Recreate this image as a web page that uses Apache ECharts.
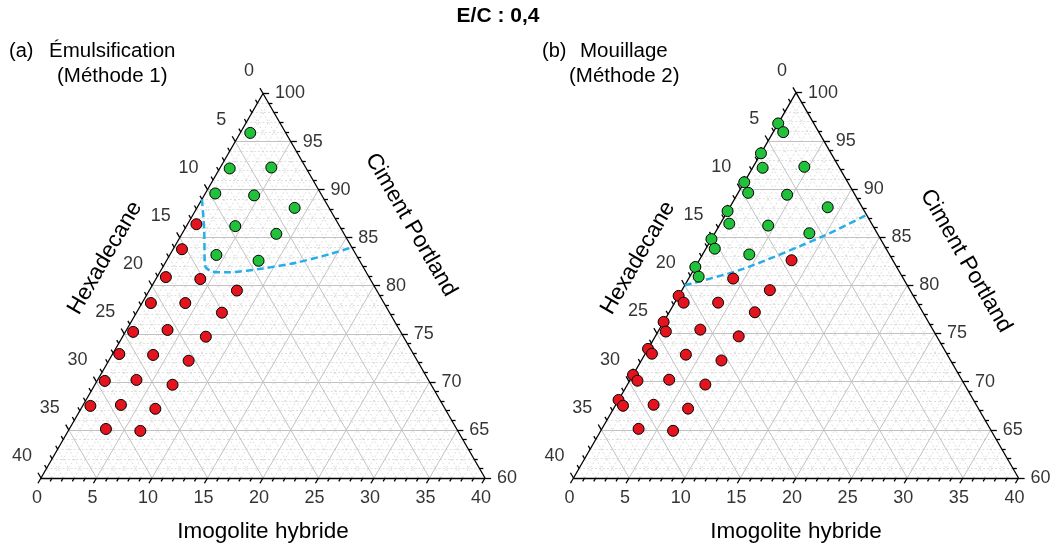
<!DOCTYPE html>
<html><head><meta charset="utf-8">
<script src="https://cdn.jsdelivr.net/npm/echarts@6/dist/echarts.min.js"></script>
<style>html,body{margin:0;padding:0;background:#fff}#c{width:1055px;height:545px}</style>
</head><body><div id="c"></div>
<script>
const FONT = "'Liberation Sans', Arial, Helvetica, sans-serif";
const TXT = '#000';

// tick labels
const imoTicks = [0, 5, 10, 15, 20, 25, 30, 35, 40];
const hexTicks = [0, 5, 10, 15, 20, 25, 30, 35, 40];
const cementTicks = [60, 65, 70, 75, 80, 85, 90, 95, 100];

// data points: [imogolite hybride, hexadecane, ciment Portland] (%)
const emulsionStable = [
  [0.9, 3.2, 95.9], [0.9, 6.9, 92.2], [4.6, 3.1, 92.3], [0.9, 9.5, 89.6], [4.5, 6.1, 89.4],
  [8.8, 3.1, 88.1], [4.4, 9.4, 86.2], [8.5, 6.1, 85.4], [4.2, 12.6, 83.2], [8.3, 9.1, 82.6]
];
const emulsionUnstable = [
  [0.8, 12.8, 86.4], [0.8, 15.4, 83.8], [0.8, 18.3, 80.9], [4.0, 15.3, 80.7], [7.9, 12.6, 79.5],
  [0.8, 21.0, 78.2], [3.9, 17.9, 78.2], [7.7, 15.1, 77.2], [0.7, 24.1, 75.2], [3.7, 20.9, 75.4],
  [7.5, 17.8, 74.7], [0.6, 26.5, 72.9], [3.7, 23.5, 72.8], [7.2, 20.6, 72.2], [0.7, 29.2, 70.1],
  [3.5, 26.3, 70.2], [7.0, 23.3, 69.7], [0.7, 31.8, 67.5], [3.4, 29.0, 67.6], [6.7, 26.1, 67.2],
  [3.3, 31.6, 65.1], [6.5, 28.6, 64.9]
];
const mouillageStable = [
  [0, 3.2, 96.8], [0, 6.3, 93.7], [0, 9.3, 90.7], [0, 12.3, 87.7], [0, 15.2, 84.8], [0, 18.1, 81.9],
  [0.9, 3.2, 95.9], [0.9, 6.9, 92.2], [4.6, 3.1, 92.3], [0.9, 9.5, 89.6], [4.5, 6.1, 89.4],
  [8.8, 3.1, 88.1], [4.4, 9.4, 86.2], [8.5, 6.1, 85.4], [4.2, 12.6, 83.2],
  [0.8, 12.8, 86.4], [0.8, 15.4, 83.8], [0.8, 18.3, 80.9]
];
const mouillageUnstable = [
  [0, 21.1, 78.9], [0, 23.8, 76.2], [0, 26.6, 73.4], [0, 29.3, 70.7], [0, 31.9, 68.1],
  [8.3, 9.1, 82.6], [4.0, 15.3, 80.7], [7.9, 12.6, 79.5],
  [0.8, 21.0, 78.2], [3.9, 17.9, 78.2], [7.7, 15.1, 77.2], [0.7, 24.1, 75.2], [3.7, 20.9, 75.4],
  [7.5, 17.8, 74.7], [0.6, 26.5, 72.9], [3.7, 23.5, 72.8], [7.2, 20.6, 72.2], [0.7, 29.2, 70.1],
  [3.5, 26.3, 70.2], [7.0, 23.3, 69.7], [0.7, 31.8, 67.5], [3.4, 29.0, 67.6], [6.7, 26.1, 67.2],
  [3.3, 31.6, 65.1], [6.5, 28.6, 64.9]
];
// stability boundaries (dashed)
const emulsionBoundary = [
  [0, 11.0, 89.0], [1.8, 12.4, 85.8], [3.5, 14.0, 82.5], [3.9, 14.2, 81.9], [4.6, 13.9, 81.5],
  [5.2, 13.4, 81.4], [6.3, 12.3, 81.4], [9.1, 9.1, 81.8], [11.8, 5.8, 82.4], [14.4, 2.3, 83.3], [16.0, 0, 84.0]
];
const mouillageBoundary = [
  [0, 20.0, 80.0], [4.4, 13.9, 81.7], [9.9, 5.0, 85.1], [12.7, 0, 87.3]
];

const S3 = Math.sqrt(3) / 2;
function P(imo, cem) { const c = cem - 60; return [imo + c / 2, c * S3]; }
const L_MAJ = 0.55, L_MIN = 0.35;

function panelSeries(gi, stable, unstable, boundary) {
  const minor = [], major = [];
  for (let v = 1; v < 40; v++) {
    const t = (v % 5 === 0) ? major : minor;
    t.push({ coords: [P(0, 60 + v), P(40 - v, 60 + v)] });
    t.push({ coords: [P(v, 60), P(v, 100 - v)] });
    t.push({ coords: [P(40 - v, 60), P(0, 100 - v)] });
  }
  const edges = [
    { coords: [P(0, 60), P(40, 60)] }, { coords: [P(40, 60), P(0, 100)] }, { coords: [P(0, 100), P(0, 60)] }
  ];
  const ticks = [];
  for (let v = 0; v <= 40; v++) {
    const L = v % 5 === 0 ? L_MAJ : L_MIN;
    let b = P(v, 60); ticks.push({ coords: [b, [b[0] - 0.5 * L, b[1] - S3 * L]] });
    b = P(0, 100 - v); ticks.push({ coords: [b, [b[0] - 0.5 * L, b[1] + S3 * L]] });
    b = P(40 - v, 60 + v); ticks.push({ coords: [b, [b[0] + L, b[1]]] });
  }
  const base = { xAxisIndex: gi, yAxisIndex: gi, silent: true };
  const lab = (extra) => Object.assign({ show: true, position: [0, 0], color: TXT, textBorderWidth: 0,
    fontSize: 18, fontFamily: FONT, formatter: p => p.name }, extra);
  return [
    Object.assign({ type: 'lines', coordinateSystem: 'cartesian2d', data: minor, z: 1,
      lineStyle: { color: '#d6d6d6', width: 0.8, type: [2, 2], opacity: 1 } }, base),
    Object.assign({ type: 'lines', coordinateSystem: 'cartesian2d', data: major, z: 2,
      lineStyle: { color: '#c2c2c2', width: 1, opacity: 1 } }, base),
    Object.assign({ type: 'lines', coordinateSystem: 'cartesian2d', data: edges.concat(ticks), z: 3, clip: false,
      lineStyle: { color: '#000', width: 1.3, opacity: 1 } }, base),
    Object.assign({ type: 'scatter', symbolSize: 0, z: 3, clip: false, itemStyle: { color: '#000' },
      data: imoTicks.map(v => ({ name: String(v), value: P(v, 60) })),
      label: lab({ align: 'center', verticalAlign: 'top', offset: [-4, 11] }) }, base),
    Object.assign({ type: 'scatter', symbolSize: 0, z: 3, clip: false, itemStyle: { color: '#000' },
      data: hexTicks.map(v => ({ name: String(v), value: P(0, 100 - v) })),
      label: lab({ align: 'right', verticalAlign: 'bottom', offset: [-9, -13] }) }, base),
    Object.assign({ type: 'scatter', symbolSize: 0, z: 3, clip: false, itemStyle: { color: '#000' },
      data: cementTicks.map(v => ({ name: String(v), value: P(100 - v, v) })),
      label: lab({ align: 'left', verticalAlign: 'middle', offset: [12, 0] }) }, base),
    Object.assign({ type: 'line', data: boundary.map(d => P(d[0], d[2])), smooth: 0.25, symbol: 'none', z: 4, clip: false,
      lineStyle: { color: '#27aee8', width: 2.5, type: [7, 4] } }, base),
    Object.assign({ type: 'scatter', data: unstable.map(d => P(d[0], d[2])), symbol: 'circle', symbolSize: 11, z: 5, clip: false,
      itemStyle: { color: '#e3141e', borderColor: '#000', borderWidth: 1, opacity: 1 } }, base),
    Object.assign({ type: 'scatter', data: stable.map(d => P(d[0], d[2])), symbol: 'circle', symbolSize: 11, z: 5, clip: false,
      itemStyle: { color: '#22c13c', borderColor: '#000', borderWidth: 1, opacity: 1 } }, base)
  ];
}

function txt(x, y, text, size, opts) {
  opts = opts || {};
  return { type: 'text', x: x, y: y, rotation: opts.rot || 0, z: 10,
    style: { text: text, font: (opts.bold ? 'bold ' : '') + size + 'px ' + FONT, fill: TXT,
      align: opts.align || 'center', textAlign: opts.align || 'center',
      verticalAlign: 'middle', textVerticalAlign: 'middle' } };
}

const chart = echarts.init(document.getElementById('c'), null, { renderer: 'canvas' });
const H = 40 * S3;
chart.setOption({
  animation: false,
  backgroundColor: '#fff',
  grid: [
    { left: 41, top: 478 - 444 * S3, width: 444, height: 444 * S3 },
    { left: 573.5, top: 478 - 445 * S3, width: 445, height: 445 * S3 }
  ],
  xAxis: [0, 1].map(i => ({ type: 'value', gridIndex: i, min: 0, max: 40, show: false })),
  yAxis: [0, 1].map(i => ({ type: 'value', gridIndex: i, min: 0, max: H, show: false })),
  series: panelSeries(0, emulsionStable, emulsionUnstable, emulsionBoundary)
    .concat(panelSeries(1, mouillageStable, mouillageUnstable, mouillageBoundary)),
  graphic: [
    txt(498, 16, 'E/C : 0,4', 21, { bold: true }),
    txt(9, 51, '(a)', 20, { align: 'left' }),
    txt(49, 51, 'Émulsification', 20.5, { align: 'left' }),
    txt(57, 76, '(Méthode 1)', 20.5, { align: 'left' }),
    txt(542, 51, '(b)', 20, { align: 'left' }),
    txt(580, 51, 'Mouillage', 20.5, { align: 'left' }),
    txt(569, 76, '(Méthode 2)', 20.5, { align: 'left' }),
    txt(263, 532, 'Imogolite hybride', 22.5),
    txt(105, 258, 'Hexadecane', 22.5, { rot: Math.PI / 3 }),
    txt(411, 225, 'Ciment Portland', 22.5, { rot: -Math.PI / 3 }),
    txt(796, 532, 'Imogolite hybride', 22.5),
    txt(638, 258, 'Hexadecane', 22.5, { rot: Math.PI / 3 }),
    txt(966, 261, 'Ciment Portland', 22.5, { rot: -Math.PI / 3 })
  ]
});
</script></body></html>
